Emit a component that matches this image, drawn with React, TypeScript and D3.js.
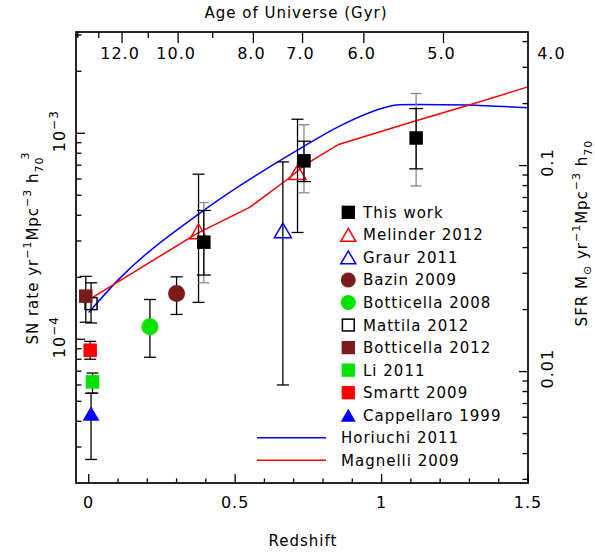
import React from 'react';
import * as d3 from 'd3';

const WIDTH = 595;
const HEIGHT = 556;
const FRAME = { left: 76, right: 528, top: 32, bottom: 483 };
const FONT = 'DejaVu Sans';

// axis ranges
const zDomain = [-0.0434, 1.5];
const rateDomain = [2.006e-5, 3.102e-3];
const sfrPerRate = 143.5; // right axis = SN rate scaled to SFR

// bottom / top / right axis ticks
const zLabels = [0, 0.5, 1, 1.5];
const zLabelText = ['0', '0.5', '1', '1.5'];
const ageLabels = [12, 10, 8, 7, 6, 5, 4];
const ageMinor = [14, 13, 11, 9];
const rateMajor = [1e-4, 1e-3];
const sfrMajor = [0.01, 0.1];
const sfrLabelText = ['0.01', '0.1'];

// This work
const thisWorkZ = [0.393, 0.735, 1.118];
const thisWorkRate = [2.96e-4, 7.35e-4, 9.49e-4];
const thisWorkStatLo = [2.05e-4, 5.83e-4, 6.72e-4];
const thisWorkStatHi = [4.22e-4, 9.15e-4, 1.318e-3];
const thisWorkSysLo = [1.88e-4, 5.14e-4, 5.55e-4];
const thisWorkSysHi = [4.61e-4, 1.1e-3, 1.56e-3];

// other surveys
const surveyNames = [
  'Melinder 2012', 'Graur 2011', 'Bazin 2009', 'Botticella 2008', 'Mattila 2012',
  'Botticella 2012', 'Li 2011', 'Smartt 2009', 'Cappellaro 1999',
];
const surveyZ = [[0.375, 0.713], [0.663], [0.3], [0.209], [0.008], [-0.01], [0.013], [0.005], [0.008]];
const surveyRate = [[3.34e-4, 6.47e-4], [3.38e-4], [1.67e-4], [1.15e-4], [1.49e-4], [1.62e-4], [6.21e-5], [8.85e-5], [4.36e-5]];
const surveyLo = [[1.51e-4, 3.3e-4], [6.0e-5], [1.32e-4], [8.18e-5], [1.2e-4], [1.21e-4], [5.48e-5], [8.0e-5], [2.61e-5]];
const surveyHi = [[6.33e-4, 1.17e-3], [7.26e-4], [2.01e-4], [1.56e-4], [1.88e-4], [2.02e-4], [6.86e-5], [9.77e-5], [5.47e-5]];

// star formation histories
const horiuchiZ = [0, 0.105, 0.375, 0.72, 0.86, 1.0, 1.06, 1.12, 1.29, 1.5];
const horiuchiRate = [1.35e-4, 1.97e-4, 4.05e-4, 8.4e-4, 1.09e-3, 1.32e-3, 1.375e-3, 1.38e-3, 1.37e-3, 1.33e-3];
const magnelliZ = [0.008, 0.369, 0.551, 0.682, 0.745, 0.853, 1.115, 1.291, 1.5];
const magnelliRate = [1.58e-4, 3.26e-4, 4.38e-4, 6.03e-4, 7.13e-4, 8.83e-4, 1.148e-3, 1.36e-3, 1.68e-3];

type Shape = 'square' | 'circle' | 'triangle';
type MarkStyle = { shape: Shape; fill: string; stroke: string };

const DARK_RED = '#7b1c1c';
const GREEN = '#00e400';

const surveyStyle: Record<string, MarkStyle> = {
  'Melinder 2012': { shape: 'triangle', fill: 'none', stroke: '#ff0000' },
  'Graur 2011': { shape: 'triangle', fill: 'none', stroke: '#0000ff' },
  'Bazin 2009': { shape: 'circle', fill: DARK_RED, stroke: 'none' },
  'Botticella 2008': { shape: 'circle', fill: GREEN, stroke: 'none' },
  'Mattila 2012': { shape: 'square', fill: 'none', stroke: '#000' },
  'Botticella 2012': { shape: 'square', fill: DARK_RED, stroke: 'none' },
  'Li 2011': { shape: 'square', fill: GREEN, stroke: 'none' },
  'Smartt 2009': { shape: 'square', fill: '#ff0000', stroke: 'none' },
  'Cappellaro 1999': { shape: 'triangle', fill: '#0000ff', stroke: 'none' },
};

// age of the universe (Gyr) -> redshift, flat LCDM H0=70, Om=0.3
const zFromAge = (t: number) => {
  const f = (2 / (3 * Math.sqrt(0.7))) * (977.8 / 70);
  const s = Math.sinh(t / f) / Math.sqrt(0.7 / 0.3);
  return Math.pow(s, -2 / 3) - 1;
};

const x = d3.scaleLinear().domain(zDomain).range([FRAME.left, FRAME.right]);
const y = d3.scaleLog().domain(rateDomain).range([FRAME.bottom, FRAME.top]);
const ySfr = d3
  .scaleLog()
  .domain([rateDomain[0] * sfrPerRate, rateDomain[1] * sfrPerRate])
  .range([FRAME.bottom, FRAME.top]);

const logMinors = (dom: number[]) => {
  const out: number[] = [];
  for (let e = -6; e <= 1; e++) {
    for (let m = 2; m <= 9; m++) {
      const v = m * Math.pow(10, e);
      if (v > dom[0] && v < dom[1]) out.push(v);
    }
  }
  return out;
};

const Marker = ({ cx, cy, st, size }: { cx: number; cy: number; st: MarkStyle; size: number }) => {
  const sw = st.stroke === 'none' ? 0 : 1.5;
  if (st.shape === 'circle') {
    return <circle cx={cx} cy={cy} r={size / 2} fill={st.fill} stroke={st.stroke} strokeWidth={sw} />;
  }
  if (st.shape === 'square') {
    const s = st.stroke === 'none' ? size : size - 1.5;
    return <rect x={cx - s / 2} y={cy - s / 2} width={s} height={s} fill={st.fill} stroke={st.stroke} strokeWidth={sw} />;
  }
  const w = size;
  const h = size * 0.86;
  const p = `M${cx},${cy - h / 2}L${cx + w / 2},${cy + h / 2}L${cx - w / 2},${cy + h / 2}Z`;
  return <path d={p} fill={st.fill} stroke={st.stroke} strokeWidth={sw} strokeLinejoin="miter" />;
};

const ErrBar = ({ z, lo, hi, cap, color }: { z: number; lo: number; hi: number; cap: number; color: string }) => {
  const cx = x(z);
  return (
    <g stroke={color} strokeWidth={1.3}>
      <line x1={cx} x2={cx} y1={y(lo)} y2={y(hi)} />
      <line x1={cx - cap / 2} x2={cx + cap / 2} y1={y(lo)} y2={y(lo)} />
      <line x1={cx - cap / 2} x2={cx + cap / 2} y1={y(hi)} y2={y(hi)} />
    </g>
  );
};

export default function App() {
  const horiuchiPath = d3
    .line<number>()
    .x((_, i) => x(horiuchiZ[i]))
    .y((d) => y(d))
    .curve(d3.curveMonotoneX)(horiuchiRate);
  const magnelliPath = d3
    .line<number>()
    .x((_, i) => x(magnelliZ[i]))
    .y((d) => y(d))(magnelliRate);

  const zMinor = d3.range(1, 15).map((i) => i / 10).filter((v) => Math.abs(v - 0.5) > 1e-6 && Math.abs(v - 1) > 1e-6);

  const textStyle = { fontFamily: FONT, letterSpacing: '1px' } as React.CSSProperties;

  const legendRows = ['This work', ...surveyNames, 'Horiuchi 2011', 'Magnelli 2009'];
  const legendY0 = 212.3;
  const legendDy = 22.55;

  return (
    <svg
      width={WIDTH}
      height={HEIGHT}
      style={{ position: 'absolute', left: 0, top: 0, background: '#fff' }}
    >
      <rect x={0} y={0} width={WIDTH} height={HEIGHT} fill="#fff" />

      {/* model curves */}
      <path d={horiuchiPath ?? ''} fill="none" stroke="#0000ff" strokeWidth={1.5} />
      <path d={magnelliPath ?? ''} fill="none" stroke="#ff0000" strokeWidth={1.5} />

      {/* other surveys */}
      {surveyNames.map((name, k) =>
        surveyZ[k].map((z, j) => (
          <g key={`${name}-${j}`}>
            <ErrBar z={z} lo={surveyLo[k][j]} hi={surveyHi[k][j]} cap={12} color="#000" />
            <Marker
              cx={x(z)}
              cy={y(surveyRate[k][j])}
              st={surveyStyle[name]}
              size={surveyStyle[name].shape === 'circle' ? 17 : surveyStyle[name].shape === 'triangle' ? 17 : 13.5}
            />
          </g>
        ))
      )}

      {/* this work */}
      {thisWorkZ.map((z, i) => (
        <g key={`tw-${i}`}>
          <ErrBar z={z} lo={thisWorkSysLo[i]} hi={thisWorkSysHi[i]} cap={11} color="#8a8a8a" />
          <ErrBar z={z} lo={thisWorkStatLo[i]} hi={thisWorkStatHi[i]} cap={14} color="#000" />
          <Marker cx={x(z)} cy={y(thisWorkRate[i])} st={{ shape: 'square', fill: '#000', stroke: 'none' }} size={13.5} />
        </g>
      ))}

      {/* frame */}
      <rect
        x={FRAME.left}
        y={FRAME.top}
        width={FRAME.right - FRAME.left}
        height={FRAME.bottom - FRAME.top}
        fill="none"
        stroke="#000"
        strokeWidth={1.7}
      />

      {/* ticks */}
      <g stroke="#000" strokeWidth={1.3}>
        {zLabels.map((v) => (
          <line key={`zb${v}`} x1={x(v)} x2={x(v)} y1={FRAME.bottom} y2={FRAME.bottom - 9} />
        ))}
        {zMinor.map((v) => (
          <line key={`zm${v}`} x1={x(v)} x2={x(v)} y1={FRAME.bottom} y2={FRAME.bottom - 4.5} />
        ))}
        {ageLabels
          .filter((a) => x(zFromAge(a)) < FRAME.right)
          .map((a) => (
            <line key={`ta${a}`} x1={x(zFromAge(a))} x2={x(zFromAge(a))} y1={FRAME.top} y2={FRAME.top + 11} />
          ))}
        {ageMinor.map((a) => (
          <line key={`tm${a}`} x1={x(zFromAge(a))} x2={x(zFromAge(a))} y1={FRAME.top} y2={FRAME.top + 6} />
        ))}
        {rateMajor.map((v) => (
          <line key={`lM${v}`} x1={FRAME.left} x2={FRAME.left + 9} y1={y(v)} y2={y(v)} />
        ))}
        {logMinors(rateDomain).map((v) => (
          <line key={`lm${v}`} x1={FRAME.left} x2={FRAME.left + 5.5} y1={y(v)} y2={y(v)} />
        ))}
        {sfrMajor.map((v) => (
          <line key={`rM${v}`} x1={FRAME.right} x2={FRAME.right - 9} y1={ySfr(v)} y2={ySfr(v)} />
        ))}
        {logMinors(ySfr.domain()).map((v) => (
          <line key={`rm${v}`} x1={FRAME.right} x2={FRAME.right - 5.5} y1={ySfr(v)} y2={ySfr(v)} />
        ))}
      </g>

      {/* tick labels */}
      <g style={textStyle} fontSize={16} fill="#000">
        {zLabels.map((v, i) => (
          <text key={`zl${v}`} x={x(v)} y={508} textAnchor="middle">
            {zLabelText[i]}
          </text>
        ))}
        {ageLabels.map((a) => (
          <text key={`al${a}`} x={x(zFromAge(a)) - 2} y={58.5} textAnchor="middle">
            {a.toFixed(1)}
          </text>
        ))}
        {rateMajor.map((v) => (
          <text key={`ll${v}`} transform={`translate(65,${y(v) + 19}) rotate(-90)`} textAnchor="start">
            10
            <tspan dy={-7} fontSize={12}>
              −{Math.round(-Math.log10(v))}
            </tspan>
          </text>
        ))}
        {sfrMajor.map((v, i) => (
          <text key={`rl${v}`} transform={`translate(553,${ySfr(v) - 3}) rotate(-90)`} textAnchor="middle">
            {sfrLabelText[i]}
          </text>
        ))}
      </g>

      {/* axis titles */}
      <g style={textStyle} fontSize={15} fill="#000">
        <text x={296} y={18} textAnchor="middle">
          Age of Universe (Gyr)
        </text>
        <text x={303} y={546} textAnchor="middle">
          Redshift
        </text>
        <text transform="translate(38,248) rotate(-90)" textAnchor="middle">
          SN rate yr
          <tspan dy={-7} fontSize={11}>−1</tspan>
          <tspan dy={7}>Mpc</tspan>
          <tspan dy={-7} fontSize={11}>−3</tspan>
          <tspan dy={7}> h</tspan>
          <tspan dy={5} fontSize={11}>70</tspan>
          <tspan dy={-14} dx={-3} fontSize={11}>3</tspan>
        </text>
        <text transform="translate(587,233) rotate(-90)" textAnchor="middle">
          SFR M
          <tspan dy={4} fontSize={11}>⊙</tspan>
          <tspan dy={-4}> yr</tspan>
          <tspan dy={-7} fontSize={11}>−1</tspan>
          <tspan dy={7}>Mpc</tspan>
          <tspan dy={-7} fontSize={11}>−3</tspan>
          <tspan dy={7}> h</tspan>
          <tspan dy={5} fontSize={11}>70</tspan>
        </text>
      </g>

      {/* legend */}
      <g style={textStyle} fontSize={15} fill="#000">
        {legendRows.map((name, i) => {
          const cy = legendY0 + i * legendDy;
          if (i >= legendRows.length - 2) {
            const color = name.startsWith('Horiuchi') ? '#0000ff' : '#ff0000';
            return (
              <g key={name}>
                <line x1={257} x2={326} y1={cy} y2={cy} stroke={color} strokeWidth={1.5} />
                <text x={341} y={cy + 5.5}>
                  {name}
                </text>
              </g>
            );
          }
          const st: MarkStyle = i === 0 ? { shape: 'square', fill: '#000', stroke: 'none' } : surveyStyle[name];
          const size = st.shape === 'circle' ? 15 : st.shape === 'triangle' ? 15 : 13.3;
          return (
            <g key={name}>
              <Marker cx={348.3} cy={cy} st={st} size={size} />
              <text x={363} y={cy + 5.5}>
                {name}
              </text>
            </g>
          );
        })}
      </g>
    </svg>
  );
}
